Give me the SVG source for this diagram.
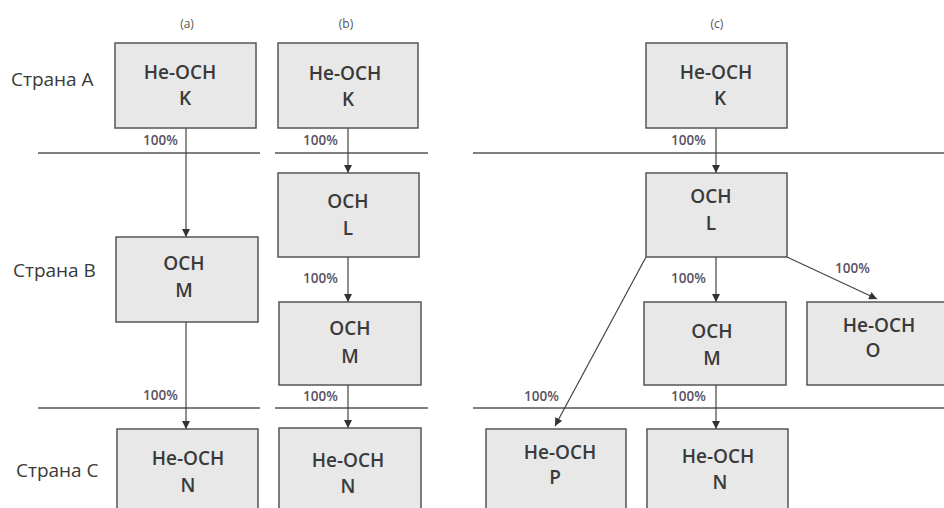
<svg xmlns="http://www.w3.org/2000/svg" width="944" height="508" viewBox="0 0 944 508">
<style>
.box{fill:#e8e8e8;stroke:#555;stroke-width:1.5}
.t{font-family:"Open Sans","Noto Sans",sans-serif;font-size:19px;font-weight:600;fill:#3a3a3a;text-anchor:middle}
.c{font-family:"Open Sans","Noto Sans",sans-serif;font-size:19px;font-weight:500;fill:#3a3a3a}
.p{font-family:"Open Sans","Noto Sans",sans-serif;font-size:13.5px;fill:#5a5060;font-weight:600}
.h{font-family:"Open Sans","Noto Sans",sans-serif;font-size:12px;fill:#555;text-anchor:middle}
.sep{stroke:#555;stroke-width:1.5}
.e{stroke:#444;stroke-width:1.2;fill:none;marker-end:url(#ah)}
</style>
<defs>
<marker id="ah" viewBox="0 0 10 10" refX="10" refY="5" markerWidth="8" markerHeight="8" markerUnits="userSpaceOnUse" orient="auto">
<path d="M0,0 L10,5 L0,10 z" fill="#333"/>
</marker>
</defs>
<rect width="944" height="508" fill="#fff"/>
<g id="headers">
<text class="h" x="187" y="28">(a)</text>
<text class="h" x="346" y="28">(b)</text>
<text class="h" x="717" y="28">(c)</text>
</g>
<g id="countries">
<text class="c" x="11" y="86">Страна А</text>
<text class="c" x="13" y="277">Страна В</text>
<text class="c" x="16" y="477">Страна С</text>
</g>
<g id="separators">
<line class="sep" x1="38" y1="153" x2="260" y2="153"/>
<line class="sep" x1="275" y1="153" x2="428" y2="153"/>
<line class="sep" x1="473" y1="153" x2="944" y2="153"/>
<line class="sep" x1="38" y1="408" x2="260" y2="408"/>
<line class="sep" x1="275" y1="408" x2="428" y2="408"/>
<line class="sep" x1="473" y1="408" x2="944" y2="408"/>
</g>
<g id="connectors">
<line class="e" x1="186" y1="128" x2="186" y2="237"/>
<line class="e" x1="186" y1="322" x2="186" y2="429"/>
<line class="e" x1="348" y1="128" x2="348" y2="173"/>
<line class="e" x1="348" y1="257" x2="348" y2="302"/>
<line class="e" x1="348" y1="385" x2="348" y2="428"/>
<line class="e" x1="716" y1="128" x2="716" y2="173"/>
<line class="e" x1="716" y1="257" x2="716" y2="302"/>
<line class="e" x1="716" y1="385" x2="716" y2="429"/>
<line class="e" x1="646" y1="257" x2="555" y2="426"/>
<line class="e" x1="787" y1="257" x2="877" y2="299"/>
</g>
<g id="labels">
<text class="p" x="143" y="145">100%</text>
<text class="p" x="143" y="400">100%</text>
<text class="p" x="303" y="145">100%</text>
<text class="p" x="303" y="283">100%</text>
<text class="p" x="303" y="401">100%</text>
<text class="p" x="671" y="145">100%</text>
<text class="p" x="671" y="283">100%</text>
<text class="p" x="671" y="401">100%</text>
<text class="p" x="835" y="273">100%</text>
<text class="p" x="524" y="401">100%</text>
</g>
<g id="aK"><rect class="box" x="115" y="43" width="141" height="85"/><text class="t" x="180" y="79">He-OCH</text><text class="t" x="185" y="105">K</text></g>
<g id="aM"><rect class="box" x="116" y="237" width="142" height="85"/><text class="t" x="184" y="270">OCH</text><text class="t" x="184" y="297">M</text></g>
<g id="aN"><rect class="box" x="117" y="429" width="141" height="90"/><text class="t" x="188" y="465">He-OCH</text><text class="t" x="188" y="492">N</text></g>
<g id="bK"><rect class="box" x="278" y="43" width="140" height="85"/><text class="t" x="345" y="80">He-OCH</text><text class="t" x="348" y="106">K</text></g>
<g id="bL"><rect class="box" x="278" y="173" width="141" height="84"/><text class="t" x="348" y="208">OCH</text><text class="t" x="348" y="235">L</text></g>
<g id="bM"><rect class="box" x="279" y="302" width="142" height="83"/><text class="t" x="350" y="335">OCH</text><text class="t" x="350" y="363">M</text></g>
<g id="bN"><rect class="box" x="279" y="428" width="142" height="90"/><text class="t" x="348" y="467">He-OCH</text><text class="t" x="348" y="493">N</text></g>
<g id="cK"><rect class="box" x="646" y="43" width="141" height="85"/><text class="t" x="716" y="79">He-OCH</text><text class="t" x="720" y="105">K</text></g>
<g id="cL"><rect class="box" x="646" y="173" width="141" height="84"/><text class="t" x="711" y="203">OCH</text><text class="t" x="711" y="230">L</text></g>
<g id="cM"><rect class="box" x="644" y="302" width="142" height="83"/><text class="t" x="712" y="338">OCH</text><text class="t" x="712" y="365">M</text></g>
<g id="cO"><rect class="box" x="807" y="302" width="140" height="83"/><text class="t" x="879" y="332">He-OCH</text><text class="t" x="873" y="357">O</text></g>
<g id="cP"><rect class="box" x="486" y="429" width="140" height="90"/><text class="t" x="560" y="459">He-OCH</text><text class="t" x="555" y="484">P</text></g>
<g id="cN"><rect class="box" x="647" y="429" width="141" height="90"/><text class="t" x="718" y="463">He-OCH</text><text class="t" x="720" y="489">N</text></g>
</svg>
